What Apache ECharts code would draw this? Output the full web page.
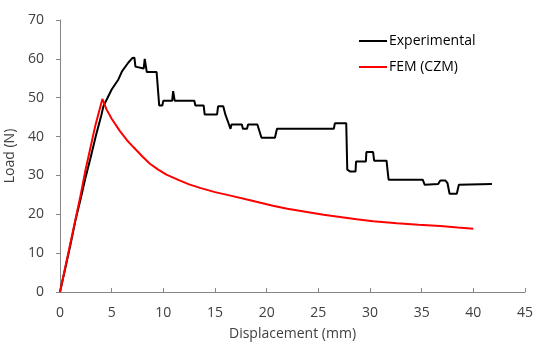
<!DOCTYPE html>
<html>
<head>
<meta charset="utf-8">
<script src="https://cdn.jsdelivr.net/npm/echarts@6/dist/echarts.min.js"></script>
<style>
html,body{margin:0;padding:0;background:#fff;}
#c{width:534px;height:350px;}
</style>
</head>
<body>
<div id="c"></div>
<script>
var xTicks = [0, 5, 10, 15, 20, 25, 30, 35, 40, 45];
var yTicks = [0, 10, 20, 30, 40, 50, 60, 70];
var seriesNames = ['Experimental', 'FEM (CZM)'];

var expDisp = [0,0.5,1,1.5,2,2.42,3,3.5,4,4.2,5,5.65,6,6.6,7.0,7.2,7.3,7.4,8.1,8.2,8.3,8.4,9.35,9.6,9.9,10.0,10.85,10.95,11.1,13.0,13.1,13.9,14.0,15.2,15.3,15.8,16.0,16.3,16.5,16.6,17.6,17.7,18.1,18.2,19.1,19.5,20.8,21.0,26.5,26.6,27.7,27.8,28.1,28.6,28.65,29.6,29.65,30.3,30.4,31.6,31.7,31.75,31.8,35.1,35.3,36.6,36.8,37.3,37.5,37.7,38.4,38.6,41.8];
var expLoad = [0,6,12,18.5,24,28.9,35,40.5,45.5,47.8,52.1,54.7,56.8,59,60.2,60.3,58,57.5,57.5,60,60,56.6,56.6,48,48,49.2,49.2,51.7,49.2,49.2,48,48,45.7,45.7,47.8,47.8,45.7,43.5,42,43.1,43.1,42,42,43.1,43.1,39.7,39.7,42,42,43.4,43.4,31.5,31,31,33.6,33.6,36,36,33.8,33.8,31.3,31,28.9,28.9,27.6,27.8,28.7,28.7,28,25.3,25.3,27.6,27.8];

var femDisp = [0,1,2,2.42,3.39,4.1,4.5,5.0,5.8,6.5,7.1,8.0,8.7,9.5,10.3,11.5,12.5,13.55,15,16.5,18.4,20.6,22,23.9,25.5,27.1,28.7,30.3,32.6,34.7,36.8,38.5,40.0];
var femLoad = [0,12.5,25,30.8,42.5,49.7,47.0,44.6,41.4,39.0,37.3,34.8,33.0,31.5,30.2,28.8,27.7,26.8,25.7,24.8,23.6,22.2,21.4,20.6,19.9,19.3,18.7,18.2,17.7,17.3,17.0,16.6,16.3];

function zip(a, b) { return a.map(function (v, i) { return [v, b[i]]; }); }

var chart = echarts.init(document.getElementById('c'), null, {renderer: 'canvas'});
var font = '"Open Sans", "Noto Sans", sans-serif';
var axisColor = '#868686';
var textColor = '#404040';

chart.setOption({
  animation: false,
  backgroundColor: '#fff',
  textStyle: {fontFamily: font},
  grid: {left: 60, right: 9, top: 20, bottom: 58, containLabel: false, outerBoundsMode: 'none'},
  legend: {
    orient: 'vertical',
    left: 354,
    top: 29,
    itemWidth: 28,
    itemHeight: 2,
    itemGap: 12,
    icon: 'rect',
    textStyle: {fontFamily: font, fontSize: 14, color: '#000', padding: [0, 0, 0, -3]},
    data: seriesNames
  },
  xAxis: {
    type: 'value',
    min: xTicks[0],
    max: xTicks[xTicks.length - 1],
    interval: 5,
    name: 'Displacement (mm)',
    nameLocation: 'middle',
    nameGap: 35,
    nameTextStyle: {fontFamily: font, fontSize: 14, color: textColor},
    axisLine: {show: true, lineStyle: {color: axisColor, width: 1}},
    axisTick: {show: true, inside: true, length: 4, lineStyle: {color: axisColor}},
    axisLabel: {fontFamily: font, fontSize: 14, color: textColor, margin: 14},
    splitLine: {show: false}
  },
  yAxis: {
    type: 'value',
    min: yTicks[0],
    max: yTicks[yTicks.length - 1],
    interval: 10,
    name: 'Load (N)',
    nameLocation: 'middle',
    nameGap: 30,
    nameTextStyle: {fontFamily: font, fontSize: 14, color: textColor},
    axisLine: {show: true, lineStyle: {color: axisColor, width: 1}},
    axisTick: {show: true, inside: false, length: 4, lineStyle: {color: axisColor}},
    axisLabel: {fontFamily: font, fontSize: 14, color: textColor, margin: 16},
    splitLine: {show: false}
  },
  series: [
    {
      name: seriesNames[0],
      type: 'line',
      data: zip(expDisp, expLoad),
      showSymbol: false,
      smooth: false,
      lineStyle: {color: '#000000', width: 2},
      itemStyle: {color: '#000000'},
      z: 2
    },
    {
      name: seriesNames[1],
      type: 'line',
      data: zip(femDisp, femLoad),
      showSymbol: false,
      smooth: false,
      lineStyle: {color: '#ff0000', width: 2},
      itemStyle: {color: '#ff0000'},
      z: 3
    }
  ]
});
</script>
</body>
</html>
